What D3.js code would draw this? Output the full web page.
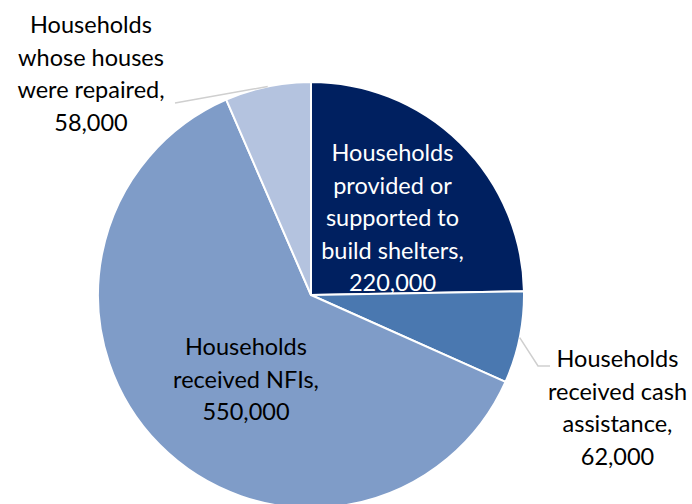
<!DOCTYPE html>
<html>
<head>
<meta charset="utf-8">
<script src="https://cdn.jsdelivr.net/npm/d3@7"></script>
<style>
  html, body { margin: 0; padding: 0; background: #fff; }
  svg { display: block; }
  text { font-family: Lato, "Open Sans", sans-serif; }
</style>
</head>
<body>
<svg id="chart" width="692" height="504"></svg>
<script>
// Shelter response, households reached by type of assistance
const categories = [
  "Households provided or supported to build shelters",
  "Households received cash assistance",
  "Households received NFIs",
  "Households whose houses were repaired"
];
const values = [220000, 62000, 550000, 58000];
const colors = ["#002060", "#4a78b0", "#7f9cc8", "#b4c3df"];
const labelLines = [
  ["Households", "provided or", "supported to", "build shelters,", "220,000"],
  ["Households", "received cash", "assistance,", "62,000"],
  ["Households", "received NFIs,", "550,000"],
  ["Households", "whose houses", "were repaired,", "58,000"]
];

const width = 692, height = 504;
const cx = 311, cy = 295, radius = 213;
const lineH = 32.5, fontSize = 23.5;

const svg = d3.select("#chart");
const g = svg.append("g").attr("transform", `translate(${cx},${cy})`);

const pie = d3.pie().sort(null).value(d => d.value);
const arcs = pie(values.map((v, i) => ({ name: categories[i], value: v, i })));
const arc = d3.arc().innerRadius(0).outerRadius(radius);

g.selectAll("path.slice")
  .data(arcs)
  .join("path")
  .attr("class", "slice")
  .attr("d", arc)
  .attr("fill", d => colors[d.data.i])
  .attr("stroke", "#fff")
  .attr("stroke-width", 2)
  .attr("stroke-linejoin", "round");

// label placement: centre x and first baseline y relative to the pie centre
const labelPos = [
  { x: 81.5, y: -134, fill: "#fff" },
  { x: 306.5, y: 72, fill: "#000" },
  { x: -65, y: 60, fill: "#000" },
  { x: -220, y: -262, fill: "#000" }
];

// leader lines for the two outside labels, anchored on the slice rim
const edge = (a, r) => [Math.sin(a) * r, -Math.cos(a) * r];
const leaderCash = (() => {
  const a = (arcs[1].startAngle + arcs[1].endAngle) / 2;
  return [edge(a, radius), [227, 71], [239, 71]];
})();
const leaderRepair = (() => {
  const a = arcs[3].startAngle + (arcs[3].endAngle - arcs[3].startAngle) * 0.5;
  return [edge(a, radius), [-136, -192]];
})();

g.selectAll("path.leader")
  .data([leaderCash, leaderRepair])
  .join("path")
  .attr("class", "leader")
  .attr("d", d3.line())
  .attr("fill", "none")
  .attr("stroke", "#cfcfcf")
  .attr("stroke-width", 1.5);

arcs.forEach((d, i) => {
  const p = labelPos[i];
  const t = g.append("text")
    .attr("text-anchor", "middle")
    .attr("font-size", fontSize)
    .attr("fill", p.fill);
  labelLines[i].forEach((line, k) => {
    t.append("tspan").attr("x", p.x).attr("y", p.y + k * lineH).text(line);
  });
});
</script>
</body>
</html>
